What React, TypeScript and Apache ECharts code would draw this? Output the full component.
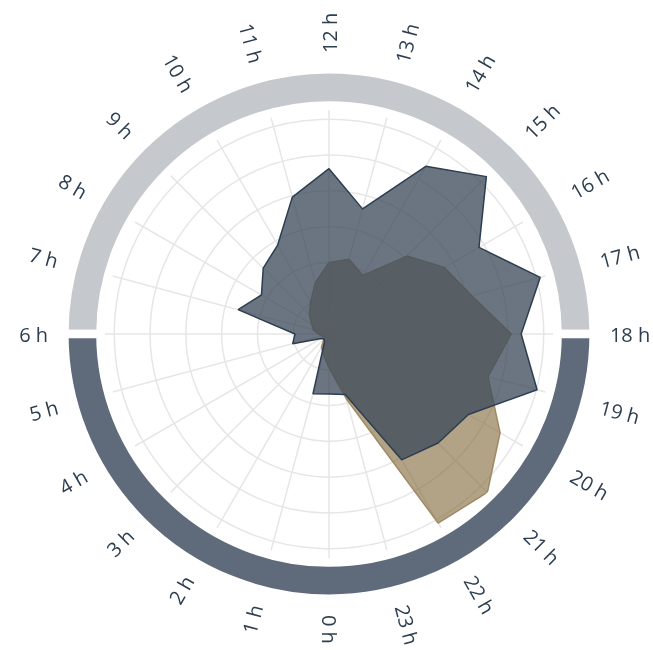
import React, { useEffect, useRef } from "react";
import * as echarts from "echarts";

// Tick labels around the clock (0 h at bottom, running clockwise)
const hourLabels = [
  "0 h", "1 h", "2 h", "3 h", "4 h", "5 h", "6 h", "7 h", "8 h", "9 h", "10 h", "11 h",
  "12 h", "13 h", "14 h", "15 h", "16 h", "17 h", "18 h", "19 h", "20 h", "21 h", "22 h", "23 h",
];
const hourPositions = [
  0, 1, 2, 3, 4, 5, 6, 7, 8, 9, 10, 11, 12, 13, 14, 15, 16, 17, 18, 19, 20, 21, 22, 23,
];

// Slate series (front)
const slateValues = [
  1.68, 1.73, 0.25, 0.2, 0.25, 1.05, 0.95, 2.63, 2.18, 2.6, 2.87, 3.96,
  4.62, 3.62, 5.41, 6.22, 4.84, 6.11, 5.37, 6.02, 4.5, 4.31, 4.06, 1.75,
];
// Tan series (behind)
const tanValues = [
  0.95, 0.6, 0.42, 0.2, 0.15, 0.2, 0.3, 0.45, 0.56, 0.78, 1.03, 1.48,
  2.0, 2.16, 1.89, 3.08, 3.72, 4.13, 5.09, 4.6, 5.52, 6.26, 6.1, 1.88,
];

// Outer ring: day (6 h – 18 h, top) and night (18 h – 6 h, bottom)
const ringNames = ["Day", "Night"];
const ringValues = [12, 12];
const ringColors = ["#c5c9cd", "#5f6b7b"];

const CX = 329;
const CY = 334;
const R = 224;
const RMAX = 6.26;
const LABEL_R = 7.85;

function closed(values: number[]) {
  const pts = values.map((v, i) => [v, hourPositions[i]]);
  pts.push([values[0], 24]);
  return pts;
}

export default function App() {
  const ref = useRef<HTMLDivElement>(null);

  useEffect(() => {
    if (!ref.current) return;
    const chart = echarts.init(ref.current, undefined, { renderer: "svg" });
    const grid = "#e6e6e6";
    const option: any = {
      animation: false,
      polar: { center: [CX, CY], radius: R },
      radiusAxis: {
        type: "value",
        min: 0,
        max: RMAX,
        interval: 1,
        axisLine: { show: false },
        axisTick: { show: false },
        axisLabel: { show: false },
        splitLine: {
          show: true,
          lineStyle: {
            color: [grid, grid, grid, grid, grid, grid, grid, "rgba(0,0,0,0)"],
            width: 1.5,
          },
        },
      },
      angleAxis: {
        type: "value",
        min: 0,
        max: 24,
        interval: 1,
        startAngle: 270,
        clockwise: true,
        axisLine: { show: false },
        axisTick: { show: false },
        axisLabel: { show: false },
        splitLine: { show: true, lineStyle: { color: grid, width: 1.5 } },
      },
      series: [
        {
          type: "pie",
          center: [CX, CY],
          radius: [228.5, 264.7],
          startAngle: 180,
          clockwise: true,
          silent: true,
          z: 1,
          label: { show: false },
          labelLine: { show: false },
          itemStyle: { borderColor: "#ffffff", borderWidth: 8.6 },
          data: ringNames.map((n, i) => ({
            name: n,
            value: ringValues[i],
            itemStyle: { color: ringColors[i] },
          })),
        },
        {
          name: "Tan",
          type: "line",
          coordinateSystem: "polar",
          data: closed(tanValues),
          symbol: "none",
          clip: false,
          silent: true,
          z: 2,
          lineStyle: { color: "#a08a62", width: 1.5 },
          areaStyle: { color: "#82693c", opacity: 0.62 },
        },
        {
          name: "Slate",
          type: "line",
          coordinateSystem: "polar",
          data: closed(slateValues),
          symbol: "none",
          clip: false,
          silent: true,
          z: 3,
          lineStyle: { color: "#2c3e50", width: 1.5 },
          areaStyle: { color: "#3e4b5b", opacity: 0.77 },
        },
        {
          type: "custom",
          coordinateSystem: "polar",
          silent: true,
          z: 4,
          data: hourPositions.map((h) => [LABEL_R, h]),
          renderItem: (params: any, api: any) => {
            const idx = params.dataIndex;
            const pt = api.coord([api.value(0), api.value(1)]);
            const cs = params.coordSys;
            const dx = pt[0] - cs.cx;
            const dy = pt[1] - cs.cy;
            const theta = Math.atan2(-dy, dx);
            const rightSide = dx > -0.5;
            return {
              type: "text",
              x: pt[0],
              y: pt[1],
              rotation: rightSide ? theta : theta - Math.PI,
              style: {
                text: hourLabels[idx],
                fill: "#2c3e50",
                fontSize: 20,
                fontFamily: "Open Sans",
                align: rightSide ? "left" : "right",
                verticalAlign: "middle",
              },
            };
          },
        },
      ],
    };
    chart.setOption(option);
    return () => chart.dispose();
  }, []);

  return (
    <div
      ref={ref}
      style={{ position: "fixed", left: 0, top: 0, width: 653, height: 650 }}
    />
  );
}
